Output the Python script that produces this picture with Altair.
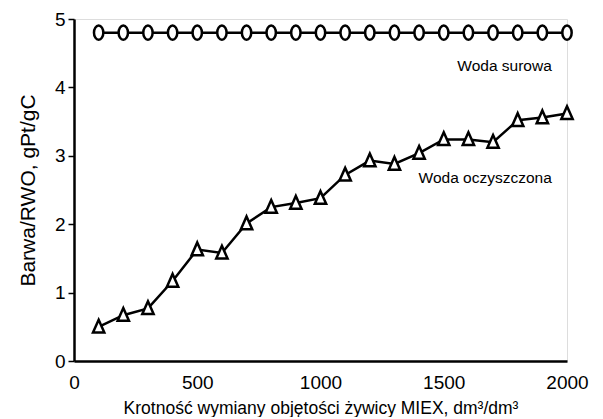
import altair as alt
import pandas as pd

x_vals = [100, 200, 300, 400, 500, 600, 700, 800, 900, 1000,
          1100, 1200, 1300, 1400, 1500, 1600, 1700, 1800, 1900, 2000]
surowa = [4.8] * 20
oczyszczona = [0.50, 0.67, 0.77, 1.17, 1.63, 1.58, 2.01, 2.25, 2.31, 2.38,
               2.72, 2.93, 2.88, 3.04, 3.24, 3.24, 3.20, 3.52, 3.56, 3.62]

label_text = ["Woda surowa", "Woda oczyszczona"]
label_x = [1555, 1398]
label_y = [4.32, 2.67]

df_s = pd.DataFrame({"x": x_vals, "y": surowa})
df_o = pd.DataFrame({"x": x_vals, "y": oczyszczona})
df_l = pd.DataFrame({"t": label_text, "x": label_x, "y": label_y})

FONT = "Liberation Sans"
ELLIPSE = "M0,-1 A0.66,1 0 1,1 0,1 A0.66,1 0 1,1 0,-1 Z"
TRIANGLE = "M0,-1 L0.8,0.8 L-0.8,0.8 Z"

xs = alt.Scale(domain=[0, 2000], nice=False)
ys = alt.Scale(domain=[0, 5], nice=False)

xenc = alt.X("x:Q", scale=xs, title="Krotność wymiany objętości żywicy MIEX, dm³/dm³",
             axis=alt.Axis(values=[0, 500, 1000, 1500, 2000], ticks=False, labelPadding=12,
                           titlePadding=7, domainWidth=2.5, domainColor="black", format="d",
                           labelFont=FONT, labelFontSize=19, labelColor="black",
                           titleFont=FONT, titleFontSize=17.5, titleFontWeight="normal",
                           titleColor="black", grid=False, labelFlush=False))
yenc = alt.Y("y:Q", scale=ys, title="Barwa/RWO, gPt/gC",
             axis=alt.Axis(values=[0, 1, 2, 3, 4, 5], tickSize=6, tickWidth=1.5, format="d",
                           tickColor="black", labelPadding=3, titlePadding=16,
                           domainWidth=2.5, domainColor="black",
                           labelFont=FONT, labelFontSize=19, labelColor="black",
                           titleFont=FONT, titleFontSize=21, titleFontWeight="normal",
                           titleColor="black", grid=False))

line_s = alt.Chart(df_s).mark_line(color="black", strokeWidth=2.5).encode(x=xenc, y=yenc)
pts_s = alt.Chart(df_s).mark_point(shape=ELLIPSE, filled=True, fill="white", stroke="black",
                                   strokeWidth=2.5, size=200, opacity=1).encode(x="x:Q", y="y:Q")
line_o = alt.Chart(df_o).mark_line(color="black", strokeWidth=2.5).encode(x="x:Q", y="y:Q")
pts_o = alt.Chart(df_o).mark_point(shape=TRIANGLE, filled=True, fill="white", stroke="black",
                                   strokeWidth=2.5, size=200, opacity=1).encode(x="x:Q", y="y:Q")
labels = alt.Chart(df_l).mark_text(align="left", baseline="middle", font=FONT, fontSize=15.5,
                                   color="black").encode(x="x:Q", y="y:Q", text="t:N")

chart = alt.layer(line_s, line_o, pts_s, pts_o, labels).properties(
    width=493, height=342,
    autosize=alt.AutoSizeParams(type="none"),
    padding={"left": 66, "top": 11, "right": 28, "bottom": 56},
).configure_view(stroke="black", strokeWidth=1.5).configure(background="white")

chart.save("out.html", embed_options={"renderer": "svg", "actions": False})
